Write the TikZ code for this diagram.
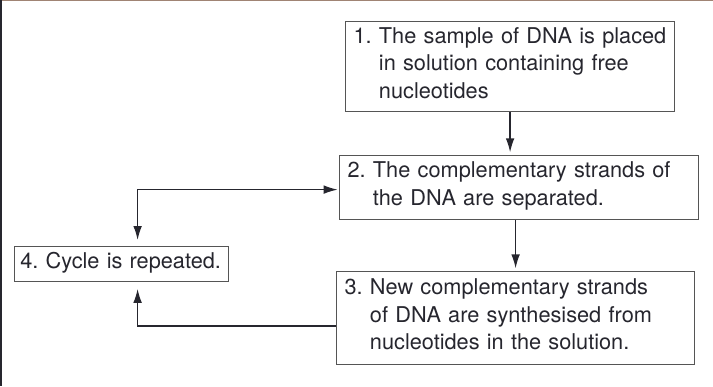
\documentclass[tikz,border=0pt]{standalone}
\usepackage{fontspec}
\setmainfont{TeX Gyre Heros}
\usetikzlibrary{arrows.meta}
\definecolor{ink}{HTML}{26262E}
\definecolor{edge}{HTML}{555555}
\definecolor{rim}{HTML}{A08474}
\newcommand{\stepind}{\hphantom{0.\ }}
\newcommand{\lastdp}{\rule[-6pt]{0pt}{0pt}}

\begin{document}
\begin{tikzpicture}[x=0.75pt,y=-0.75pt,font=\fontsize{16.3pt}{20.6pt}\selectfont,text=ink,
box/.style={draw=edge,line width=0.9pt,anchor=north west,align=left,inner xsep=6pt,inner ysep=0pt},
>={Latex[length=10.5pt,width=6.5pt]},
arr/.style={->,line width=1pt,draw=ink}]
\useasboundingbox (0,0) rectangle (713,386);
\draw[rim,line width=1pt] (0,0.7)--(713,0.7);
\draw[ink,line width=1.2pt] (0.8,0)--(0.8,386);
% the four steps
\node[box,minimum width=246.75pt,minimum height=67.5pt,text width=234.75pt] (b1) at (345,21)
  {1.\ The sample of DNA is placed\\\stepind in solution containing free\\\stepind nucleotides\lastdp};
\node[box,minimum width=269.25pt,minimum height=48pt,text width=257.25pt] (b2) at (339,155)
  {2.\ The complementary strands of\\\stepind the DNA are separated.\lastdp};
\node[box,minimum width=268.5pt,minimum height=69.75pt,text width=256.5pt] (b3) at (336,271)
  {3.\ New complementary strands\\\stepind of DNA are synthesised from\\\stepind nucleotides in the solution.\lastdp};
\node[box,minimum width=160.5pt,minimum height=26.25pt,text width=152pt,inner xsep=4.25pt] (b4) at (14,246)
  {4.\ Cycle is repeated.\lastdp};
% flow
\draw[arr,shorten >=2pt] (b1.south)--(b1.south |- b2.north);
\draw[arr,shorten >=2pt] (b3.north |- b2.south)--(b3.north);
\draw[arr,shorten >=5pt] ([yshift=-6pt]b3.west) -| ([xshift=12pt]b4.south);
\draw[arr,<->,shorten <=4.5pt,shorten >=1pt] ([xshift=12pt]b4.north) |- ([yshift=-1.5pt]b2.west);
\end{tikzpicture}
\end{document}
